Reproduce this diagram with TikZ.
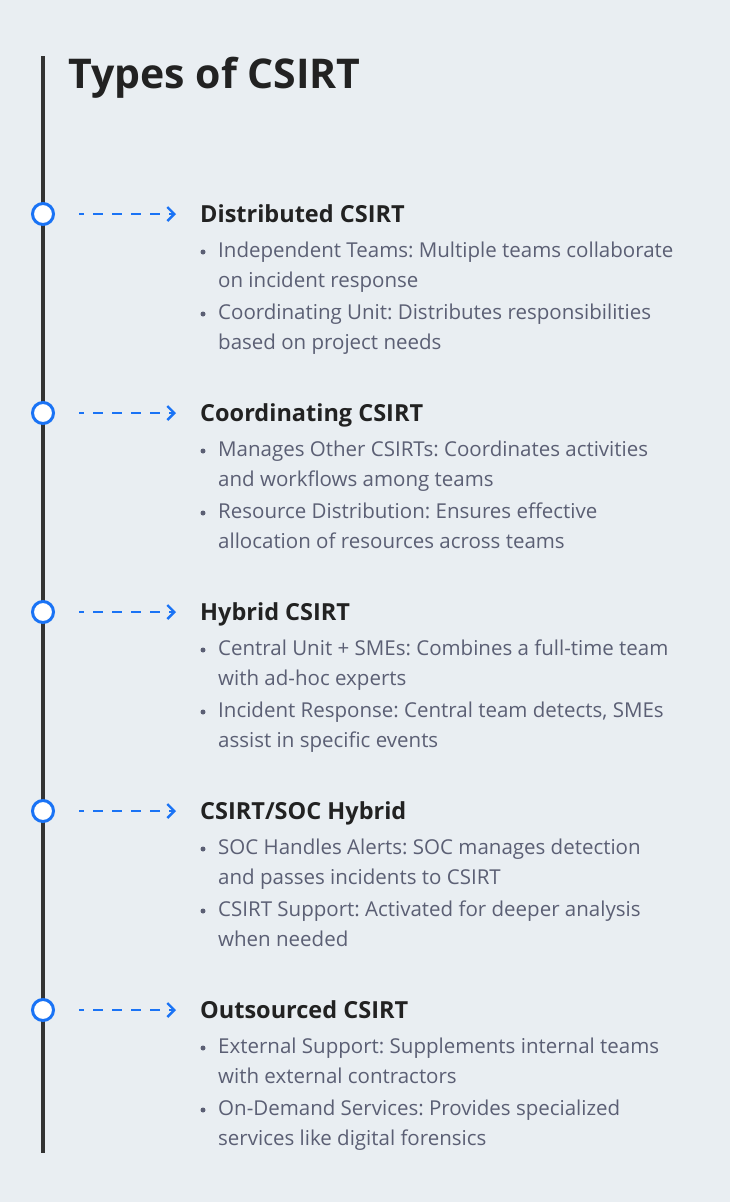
\documentclass[tikz,border=0pt]{standalone}
\usepackage{fontspec}
\setmainfont{Open Sans}
\usepackage{tikz}
\usetikzlibrary{arrows.meta, positioning}
\definecolor{bgpaper}{HTML}{E9EEF2}
\definecolor{railgray}{HTML}{333333}
\definecolor{dotblue}{HTML}{1A73F5}
\definecolor{headink}{HTML}{222222}
\definecolor{bodyink}{HTML}{5B5F74}
\frenchspacing

\tikzset{
  dotmark/.style={circle, draw=dotblue, line width=3pt, fill=white, minimum size=21pt, inner sep=0pt},
  pointer/.style={dotblue, line width=2.4pt, dash pattern=on 10pt off 9pt, dash phase=5pt, -{Straight Barb[length=7pt, width=14pt]}},
  headtext/.style={anchor=base west, inner sep=0pt, text=headink, font=\fontsize{23.5}{28}\selectfont\bfseries},
  bodytext/.style={anchor=base west, inner sep=0pt, text=bodyink, font=\fontsize{20.5}{30}\selectfont},
  bulletdot/.style={circle, fill=bodyink, minimum size=5pt, inner sep=0pt}
}

\begin{document}
\begin{tikzpicture}[x=1pt, y=-1pt]
  \fill[bgpaper] (0,0) rectangle (730,1202);
  \useasboundingbox (0,0) rectangle (730,1202);

  % rail and title
  \coordinate (railtop) at (43,56);
  \coordinate (railend) at (43,1153);
  \draw[railgray, line width=3.5pt] (railtop) -- (railend);
  \node[anchor=base west, inner sep=0pt, text=headink, font=\fontsize{41}{48}\selectfont\bfseries] (title) at (68,88) {Types of CSIRT};

  % markers on the rail
  \node[dotmark] (m1) at (43,214) {};
  \node[dotmark] (m2) at (43,413) {};
  \node[dotmark] (m3) at (43,612) {};
  \node[dotmark] (m4) at (43,811) {};
  \node[dotmark] (m5) at (43,1010) {};

  % section 1
  \node[headtext] (h1) at (200,222) {Distributed CSIRT};
  \node[bulletdot] (d1a) at (203,252) {};
  \node[bodytext] (t1a) at (218,257) {Independent Teams: Multiple teams collaborate};
  \node[bodytext] (t1b) at (218,287) {on incident response};
  \node[bulletdot] (d1b) at (203,314) {};
  \node[bodytext] (t1c) at (218,319) {Coordinating Unit: Distributes responsibilities};
  \node[bodytext] (t1d) at (218,349) {based on project needs};

  % section 2
  \node[headtext] (h2) at (200,421) {Coordinating CSIRT};
  \node[bulletdot] (d2a) at (203,451) {};
  \node[bodytext] (t2a) at (218,456) {Manages Other CSIRTs: Coordinates activities};
  \node[bodytext] (t2b) at (218,486) {and workflows among teams};
  \node[bulletdot] (d2b) at (203,513) {};
  \node[bodytext] (t2c) at (218,518) {Resource Distribution: Ensures effective};
  \node[bodytext] (t2d) at (218,548) {allocation of resources across teams};

  % section 3
  \node[headtext] (h3) at (200,620) {Hybrid CSIRT};
  \node[bulletdot] (d3a) at (203,650) {};
  \node[bodytext] (t3a) at (218,655) {Central Unit + SMEs: Combines a full-time team};
  \node[bodytext] (t3b) at (218,685) {with ad-hoc experts};
  \node[bulletdot] (d3b) at (203,712) {};
  \node[bodytext] (t3c) at (218,717) {Incident Response: Central team detects, SMEs};
  \node[bodytext] (t3d) at (218,747) {assist in specific events};

  % section 4
  \node[headtext] (h4) at (200,819) {CSIRT/SOC Hybrid};
  \node[bulletdot] (d4a) at (203,849) {};
  \node[bodytext] (t4a) at (218,854) {SOC Handles Alerts: SOC manages detection};
  \node[bodytext] (t4b) at (218,884) {and passes incidents to CSIRT};
  \node[bulletdot] (d4b) at (203,911) {};
  \node[bodytext] (t4c) at (218,916) {CSIRT Support: Activated for deeper analysis};
  \node[bodytext] (t4d) at (218,946) {when needed};

  % section 5
  \node[headtext] (h5) at (200,1018) {Outsourced CSIRT};
  \node[bulletdot] (d5a) at (203,1048) {};
  \node[bodytext] (t5a) at (218,1053) {External Support: Supplements internal teams};
  \node[bodytext] (t5b) at (218,1083) {with external contractors};
  \node[bulletdot] (d5b) at (203,1110) {};
  \node[bodytext] (t5c) at (218,1115) {On-Demand Services: Provides specialized};
  \node[bodytext] (t5d) at (218,1145) {services like digital forensics};

  % dashed pointers from markers to headings
  \foreach \k in {1,...,5}
    \draw[pointer] ([xshift=24pt]m\k.east) -- ([xshift=-24pt]h\k.west |- m\k);
\end{tikzpicture}
\end{document}
